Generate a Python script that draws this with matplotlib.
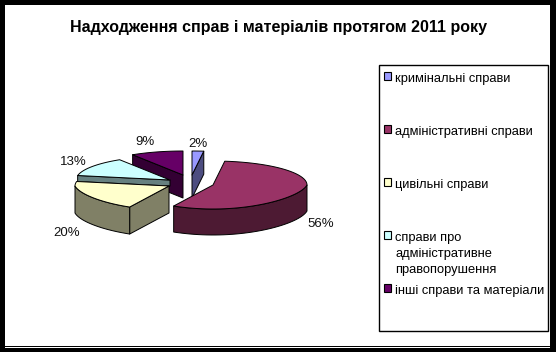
import numpy as np
import matplotlib
matplotlib.use('Agg')
import matplotlib.pyplot as plt
from matplotlib.patches import Polygon, Rectangle

plt.rcParams['font.family'] = ['Liberation Sans', 'DejaVu Sans']

# Data
title = 'Надходження справ і матеріалів протягом 2011 року'
categories = ['кримінальні справи', 'адміністративні справи', 'цивільні справи',
              'справи про\nадміністративне\nправопорушення', 'інші справи та матеріали']
values = [2, 56, 20, 13, 9]

# Style
top_colors = ['#9999FF', '#993366', '#FFFFCC', '#CCFFFF', '#660066']
side_colors = ['#4D4D80', '#4D1A33', '#808066', '#668080', '#330033']
apex = [(192, 175), (213, 185), (169, 186), (170, 180), (183, 175)]
depth = [23, 26, 27, 6, 23]
label_pos = [(198, 144), (321, 224), (67, 233), (73, 162), (145, 142)]
legend_y = [76, 129, 182, 235, 288]
draw_order = [4, 3, 2, 0, 1]
RX, RY = 94, 24

fig = plt.figure(figsize=(5.56, 3.52), dpi=100)
ax = fig.add_axes([0, 0, 1, 1])
ax.set_xlim(0, 556)
ax.set_ylim(352, 0)
ax.axis('off')

# Frame of the picture
for x, y, w, h in [(0, 0, 556, 5), (0, 0, 5, 352), (550, 0, 6, 352),
                   (0, 348, 556, 4), (5, 346, 545, 1)]:
    ax.add_patch(Rectangle((x, y), w, h, fc='black', ec='none', zorder=10))

ax.text(278, 27.5, title, ha='center', va='center', fontsize=11.5, fontweight='bold')

edges = np.cumsum([0] + values) / sum(values) * 2 * np.pi


def rim(i, a):
    # front of the pie is pulled in a little, the picture has perspective
    squeeze = 1 - 0.15 * max(0, -np.cos(a))
    return apex[i][0] + RX * squeeze * np.sin(a), apex[i][1] - RY * np.cos(a)


def wall(i, pts, z):
    poly = list(pts) + [(x, y + depth[i]) for x, y in reversed(pts)]
    ax.add_patch(Polygon(poly, closed=True, fc=side_colors[i], ec='black', lw=0.7,
                         joinstyle='round', zorder=z))


for z, i in enumerate(draw_order):
    a0, a1 = edges[i], edges[i + 1]
    base = 2 + z * 2
    # side walls that face the viewer
    if np.sin(a0) < -1e-6:
        wall(i, [apex[i], rim(i, a0)], base)
    if np.sin(a1) > 1e-6:
        wall(i, [apex[i], rim(i, a1)], base)
    # outer wall, front half of the rim only
    lo, hi = max(a0, np.pi / 2), min(a1, 3 * np.pi / 2)
    if hi > lo:
        wall(i, [rim(i, a) for a in np.linspace(lo, hi, 40)], base)
    # top face
    arc = [rim(i, a) for a in np.linspace(a0, a1, 60)]
    ax.add_patch(Polygon([apex[i]] + arc, closed=True, fc=top_colors[i], ec='black',
                         lw=0.7, joinstyle='round', zorder=base + 1))

for v, (x, y) in zip(values, label_pos):
    ax.text(x, y, f'{v}%', ha='center', va='center', fontsize=9.5, color='#111111', zorder=20)

# Legend
ax.add_patch(Rectangle((378.5, 64.5), 169, 266, fc='white', ec='black', lw=1, zorder=12))
for c, col, y in zip(categories, top_colors, legend_y):
    ax.add_patch(Rectangle((383.5, y - 4), 7, 7.5, fc=col, ec='black', lw=0.8, zorder=13))
    ax.text(395, y - 3, c, ha='left', va='top', fontsize=9.25, linespacing=1.45, zorder=13)

plt.savefig('out.png', dpi=100)
